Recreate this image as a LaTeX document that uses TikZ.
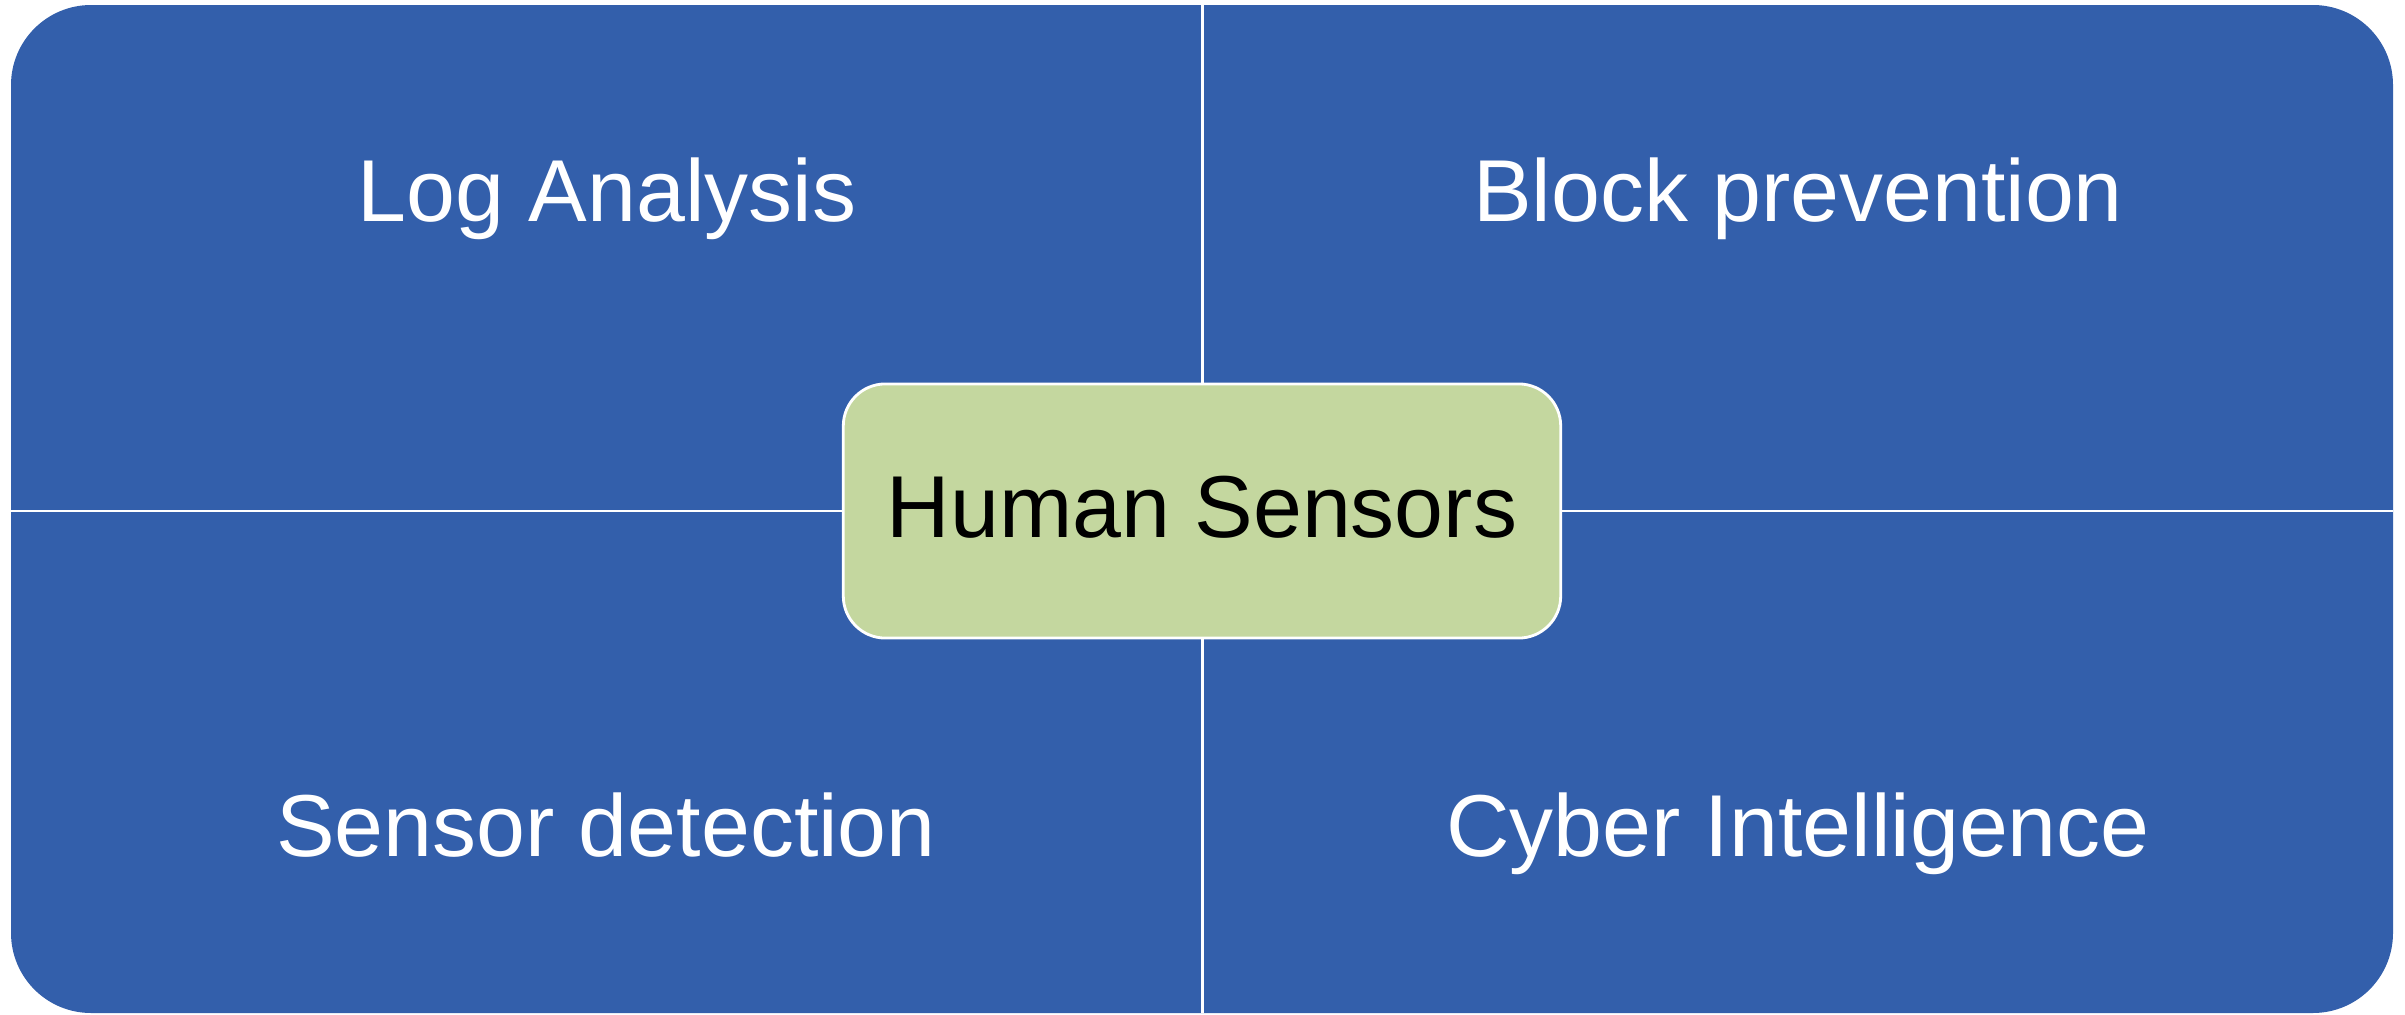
\documentclass[tikz,border=0pt]{standalone}
\usepackage{fontspec}
\setmainfont{Liberation Sans}
\usetikzlibrary{positioning}
\definecolor{quad}{HTML}{335FAB}
\definecolor{hub}{HTML}{C4D79F}

\begin{document}
\begin{tikzpicture}[x=0.01cm,y=-0.01cm,
  quadtext/.style={font=\fontsize{25}{30}\selectfont,text=white,anchor=base},
  divider/.style={draw=white,line width=0.85pt},
  hubbox/.style={fill=hub,draw=white,line width=0.8pt,rounded corners=0.42cm,
    minimum width=7.17cm,minimum height=2.54cm,text depth=0.08cm,
    font=\fontsize{25}{30}\selectfont,text=black}]
  \useasboundingbox (0,0) rectangle (2405,1015);
  % Matrix background
  \fill[quad,rounded corners=0.8cm] (11,5) rectangle (2393,1013);
  % Dividers between the quadrants
  \coordinate (n) at (1202,5);
  \coordinate (s) at (1202,1013);
  \coordinate (w) at (11,511);
  \coordinate (e) at (2393,511);
  \draw[divider] (n) -- (s);
  \draw[divider] (w) -- (e);
  % Quadrant labels
  \node[quadtext] (log) at (607,221) {Log Analysis};
  \node[quadtext] (block) at (1798,221) {Block prevention};
  \node[quadtext] (sensor) at (606,856) {Sensor detection};
  \node[quadtext] (cyber) at (1798,856) {Cyber Intelligence};
  % Centre
  \node[hubbox] (hub) at (1202,511) {Human Sensors};
\end{tikzpicture}
\end{document}
